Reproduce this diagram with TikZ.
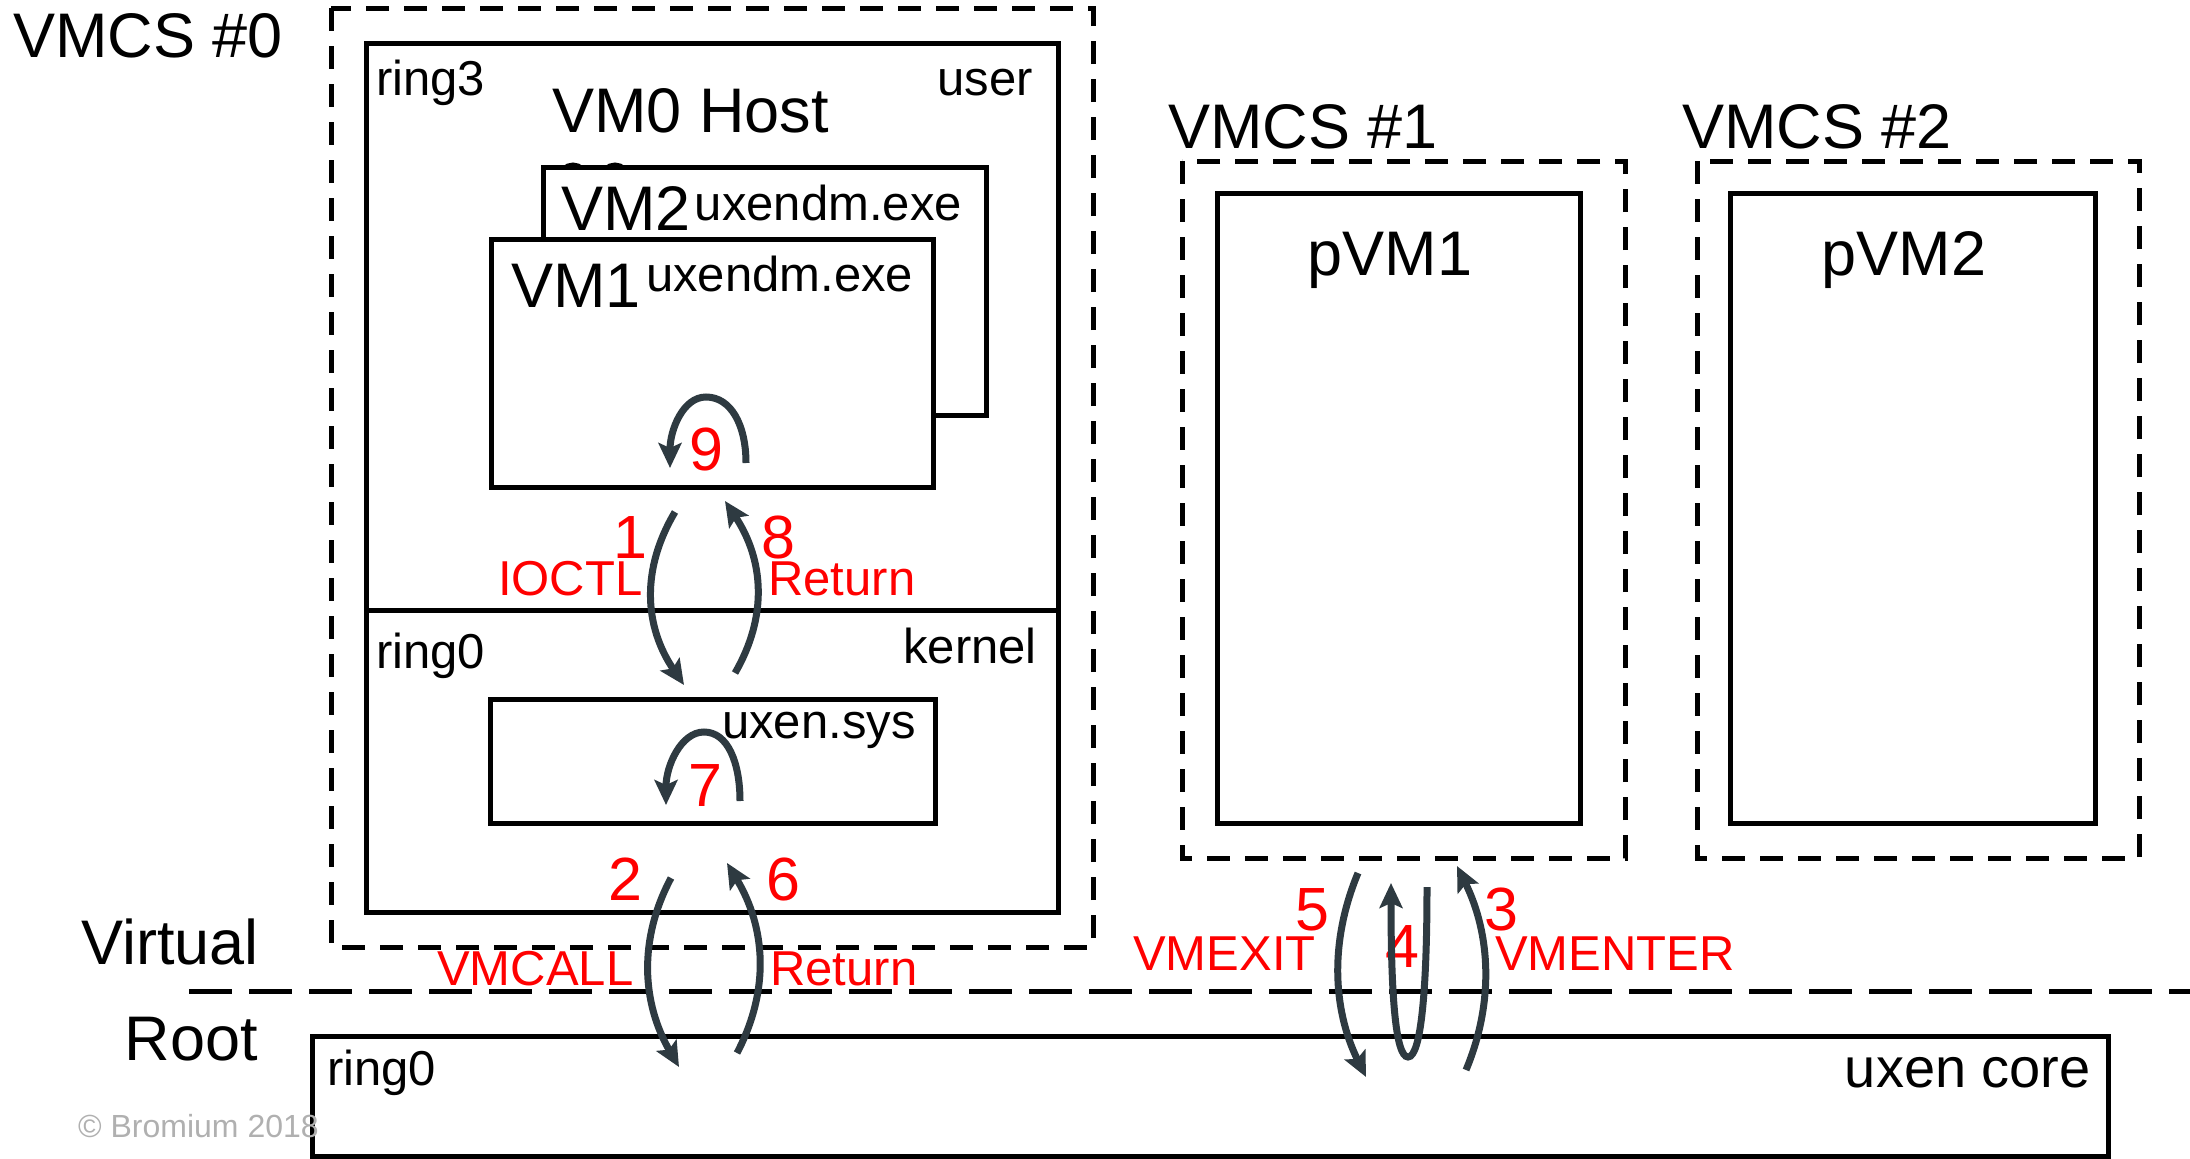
\documentclass[tikz,border=0pt]{standalone}
\usepackage{fontspec}
\setmainfont{Liberation Sans}
\usetikzlibrary{arrows.meta}
\definecolor{arrowc}{HTML}{2E3A41}
\definecolor{copyc}{HTML}{B0B0B0}
\definecolor{lblred}{HTML}{FF0000}
\tikzset{
  solidbox/.style={draw=black, line width=5pt},
  whitebox/.style={draw=black, line width=5pt, fill=white},
  dashbox/.style={draw=black, line width=5pt, dash pattern=on 23pt off 15pt},
  longdash/.style={draw=black, line width=5pt, dash pattern=on 43pt off 17pt},
  txt/.style={text=black, inner sep=0pt, font=\fontsize{49}{55}\selectfont},
  bigtxt/.style={text=black, inner sep=0pt, font=\fontsize{63}{70}\selectfont},
  num/.style={text=lblred, inner sep=0pt, anchor=base, font=\fontsize{61}{70}\selectfont},
  redlbl/.style={text=lblred, inner sep=0pt, anchor=base west, font=\fontsize{49}{55}\selectfont},
  flow/.style={draw=arrowc, line width=7pt, -{Stealth[length=25pt,width=23pt,inset=5pt]}},
}
\begin{document}
\begin{tikzpicture}[x=1pt,y=-1pt]
\useasboundingbox (0,0) rectangle (2190,1159);

% ---------- VMCS #0 ----------
\draw[dashbox] (331,8) rectangle (1093,947);
\draw[solidbox] (366,43) rectangle (1058,912);
\draw[solidbox] (366,610) -- (1058,610);
% partially hidden marks behind VM2
\draw[black, line width=5pt] (573,178) circle (13);
\draw[black, line width=5pt] (615,178) circle (13);
\draw[whitebox] (543,167) rectangle (986,415);
\draw[whitebox] (491,239) rectangle (933,487);
\draw[whitebox] (490,699) rectangle (935,823);

% ---------- VMCS #1 / #2 ----------
\draw[dashbox] (1182,161) rectangle (1625,858);
\draw[solidbox] (1217,193) rectangle (1580,823);
\draw[dashbox] (1697,161) rectangle (2139,858);
\draw[solidbox] (1730,193) rectangle (2095,823);

% ---------- Root ----------
\draw[longdash] (189,991) -- (2190,991);
\draw[solidbox] (312,1036) rectangle (2108,1156);

% ---------- black texts ----------
\node[bigtxt, anchor=base west] (t-vmcs0) at (13,57) {VMCS \#0};
\node[txt, anchor=base west] (t-ring3) at (376,95) {ring3};
\node[txt, anchor=base east] (t-user) at (1033,95) {user};
\node[bigtxt, anchor=base west] (t-host) at (552,132) {VM0 Host};
\node[bigtxt, anchor=base west] (t-vm2) at (561,230) {VM2};
\node[txt, anchor=base east] (t-vm2exe) at (962,220) {uxendm.exe};
\node[bigtxt, anchor=base west] (t-vm1) at (511,307) {VM1};
\node[txt, anchor=base west] (t-vm1exe) at (646,291) {uxendm.exe};
\node[txt, anchor=base west] (t-ring0k) at (376,668) {ring0};
\node[txt, anchor=base east] (t-kernel) at (1037,663) {kernel};
\node[txt, anchor=base west] (t-sys) at (722,738) {uxen.sys};
\node[bigtxt, anchor=base west] (t-vmcs1) at (1168,148) {VMCS \#1};
\node[bigtxt, anchor=base west] (t-vmcs2) at (1682,148) {VMCS \#2};
\node[bigtxt, anchor=base] (t-pvm1) at (1390,275) {pVM1};
\node[bigtxt, anchor=base] (t-pvm2) at (1904,275) {pVM2};
\node[bigtxt, anchor=base west] (t-virtual) at (81,964) {Virtual};
\node[bigtxt, anchor=base east] (t-root) at (258,1060) {Root};
\node[txt, anchor=base west] (t-ring0r) at (327,1085) {ring0};
\node[txt, anchor=base east, font=\fontsize{56}{62}\selectfont] (t-core) at (2091,1087) {uxen core};
\node[text=copyc, inner sep=0pt, anchor=base west, font=\fontsize{32}{36}\selectfont] (t-copy) at (78,1137) {© Bromium 2018};

% ---------- red labels ----------
\node[num] (n9) at (706,470) {9};
\node[num] (n1) at (630,558) {1};
\node[num] (n8) at (778,558) {8};
\node[num] (n7) at (705,806) {7};
\node[num] (n2) at (625,900) {2};
\node[num] (n6) at (783,900) {6};
\node[num] (n5) at (1312,930) {5};
\node[num] (n4) at (1402,967) {4};
\node[num] (n3) at (1501,930) {3};
\node[redlbl] (l-ioctl) at (498,595) {IOCTL};
\node[redlbl] (l-ret1) at (768,595) {Return};
\node[redlbl] (l-vmcall) at (437,985) {VMCALL};
\node[redlbl] (l-ret2) at (770,985) {Return};
\node[redlbl] (l-vmexit) at (1133,970) {VMEXIT};
\node[redlbl] (l-vmenter) at (1495,970) {VMENTER};

% ---------- arrows ----------
\coordinate (a9s) at (746,463); \coordinate (a9t) at (706,397); \coordinate (a9e) at (670,468);
\draw[flow] (a9s) .. controls (746,425) and (731,397) .. (a9t) .. controls (683,397) and (670,430) .. (a9e);
\coordinate (a7s) at (740,801); \coordinate (a7t) at (704,732); \coordinate (a7e) at (666,805);
\draw[flow] (a7s) .. controls (740,763) and (728,732) .. (a7t) .. controls (681,732) and (666,766) .. (a7e);

\coordinate (a1s) at (675,512); \coordinate (a1e) at (684,685);
\draw[flow] (a1s) .. controls (641,569) and (644,626) .. (a1e);
\coordinate (a8s) at (735,673); \coordinate (a8e) at (725,501);
\draw[flow] (a8s) .. controls (768,616) and (764,560) .. (a8e);

\coordinate (a2s) at (671,878); \coordinate (a2e) at (679,1067);
\draw[flow] (a2s) .. controls (638,940) and (642,1003) .. (a2e);
\coordinate (a6s) at (737,1053); \coordinate (a6e) at (727,863);
\draw[flow] (a6s) .. controls (770,990) and (766,928) .. (a6e);

\coordinate (a5s) at (1358,873); \coordinate (a5e) at (1366,1077);
\draw[flow] (a5s) .. controls (1330,940) and (1332,1008) .. (a5e);
\coordinate (a3s) at (1466,1070); \coordinate (a3e) at (1457,866);
\draw[flow] (a3s) .. controls (1494,1003) and (1491,935) .. (a3e);
\coordinate (a4s) at (1427,887); \coordinate (a4b) at (1408,1057); \coordinate (a4e) at (1391,883);
\draw[flow] (a4s) .. controls (1427,990) and (1421,1057) .. (a4b) .. controls (1395,1057) and (1391,990) .. (a4e);
\end{tikzpicture}
\end{document}
